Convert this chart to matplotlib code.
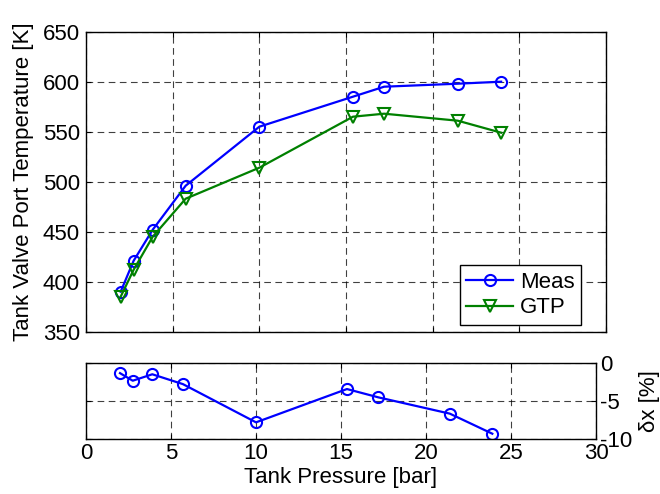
import matplotlib
matplotlib.use("Agg")
import matplotlib.pyplot as plt

plt.rcParams["font.family"] = ["Liberation Sans", "DejaVu Sans"]
plt.rcParams["axes.unicode_minus"] = False

# Data
pressure = [2.0, 2.75, 3.85, 5.75, 10.0, 15.4, 17.2, 21.45, 23.95]
meas = [390, 421, 452, 496, 555, 585, 595, 598, 600]
gtp = [385, 412, 445, 483, 514, 565, 568, 561, 549]
dx_pressure = [2.0, 2.75, 3.9, 5.7, 10.0, 15.35, 17.2, 21.4, 23.9]
dx = [-1.3, -2.3, -1.45, -2.75, -7.8, -3.4, -4.5, -6.65, -9.3]

W, H = 660, 494
FS = 16
fig = plt.figure(figsize=(6.6, 4.94), dpi=100)

ax1 = fig.add_axes([86 / W, 1 - 331.7 / H, 520 / W, 300 / H])
ax2 = fig.add_axes([86 / W, 1 - 439 / H, 510 / W, 75.7 / H])

grid_kw = dict(color="black", linestyle=(0, (6, 4)), linewidth=0.8, alpha=0.75)

# Top: temperatures
ax1.plot(pressure, meas, color="blue", marker="o", mfc="none", ms=8, mew=1.5,
         lw=1.6, label="Meas")
ax1.plot(pressure, gtp, color="green", marker="v", mfc="none", ms=9, mew=1.5,
         lw=1.6, label="GTP")
ax1.set_xlim(0, 30)
ax1.set_ylim(350, 650)
ax1.set_xticks(range(0, 31, 5))
ax1.set_yticks(range(350, 651, 50))
ax1.set_xticklabels([])
ax1.grid(True, **grid_kw)
ax1.set_ylabel("Tank Valve Port Temperature [K]", fontsize=FS, labelpad=6)
ax1.tick_params(direction="in", labelsize=FS, top=True, right=True, pad=4.5)
leg = ax1.legend(loc="lower right", bbox_to_anchor=(0.952, 0.022), borderaxespad=0,
                 fontsize=FS, fancybox=False, framealpha=1, edgecolor="black",
                 handlelength=2.1, handletextpad=0.3, borderpad=0.3,
                 labelspacing=0.2)
leg.get_frame().set_linewidth(1.0)

# Bottom: relative deviation
ax2.plot(dx_pressure, dx, color="blue", marker="o", mfc="none", ms=8, mew=1.5, lw=1.6)
ax2.set_xlim(0, 30)
ax2.set_ylim(-10, 0)
ax2.set_xticks(range(0, 31, 5))
ax2.set_yticks([-10, -5, 0])
ax2.grid(True, **grid_kw)
ax2.yaxis.tick_right()
ax2.yaxis.set_label_position("right")
ax2.set_ylabel("\u03b4x [%]", fontsize=FS, labelpad=5)
ax2.set_xlabel("Tank Pressure [bar]", fontsize=FS, labelpad=2)
ax2.tick_params(direction="in", labelsize=FS, top=True, left=True, pad=3)

for ax in (ax1, ax2):
    for s in ax.spines.values():
        s.set_linewidth(1.0)

fig.savefig("out.png", dpi=100)
